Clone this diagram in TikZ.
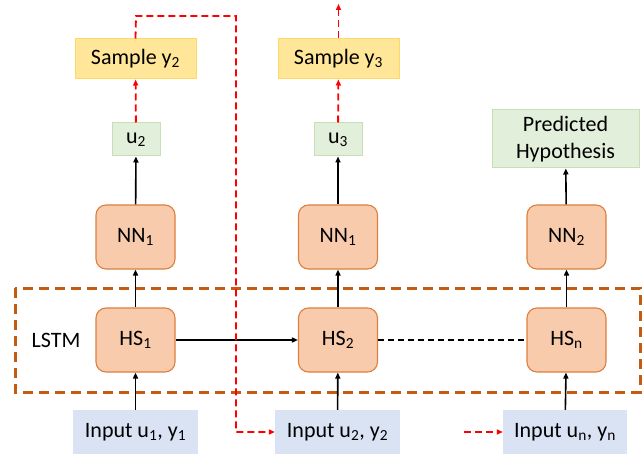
\documentclass[tikz,border=0pt]{standalone}
\usepackage{fontspec}
\setmainfont{Carlito}
\usetikzlibrary{arrows.meta}
\definecolor{sampfill}{HTML}{FFE699}
\definecolor{sampdraw}{HTML}{FFD966}
\definecolor{ufill}{HTML}{E2EFDA}
\definecolor{udraw}{HTML}{C5E0B4}
\definecolor{nnfill}{HTML}{F8CBAD}
\definecolor{nndraw}{HTML}{DD7F3E}
\definecolor{infill}{HTML}{DAE3F3}
\definecolor{lstmdraw}{HTML}{C55A11}
\newcommand{\sbs}[1]{\textsubscript{#1}}
\tikzset{
  x=1pt, y=-1pt,
  every node/.style={font=\fontsize{22}{27}\selectfont, inner sep=0pt},
  sampbox/.style={fill=sampfill, draw=sampdraw, line width=1pt, minimum width=121pt, minimum height=40pt},
  ubox/.style={fill=ufill, draw=udraw, line width=1pt, minimum width=48pt, minimum height=33pt},
  nnbox/.style={fill=nnfill, draw=nndraw, line width=1.1pt, rounded corners=10pt, minimum width=79pt, minimum height=64pt},
  inbox/.style={fill=infill, minimum width=125pt, minimum height=44pt},
  blk/.style={line width=1.6pt, -{Triangle[length=6pt,width=5pt]}},
  redd/.style={red, line width=1.8pt, dash pattern=on 7pt off 4pt, -{Triangle[length=6pt,width=5pt]}},
}
\begin{document}
\begin{tikzpicture}
\useasboundingbox (0,0) rectangle (642,454);
% LSTM box
\draw[lstmdraw, line width=3pt, dash pattern=on 10pt off 6pt] (15,288) rectangle (640,392);
\node (lstm) at (56,340) {LSTM};
% nodes
\node[sampbox] (sy2) at (135.5,59) {Sample y\sbs{2}};
\node[sampbox] (sy3) at (338.5,59) {Sample y\sbs{3}};
\node[ubox] (u2) at (136,139.5) {u\sbs{2}};
\node[ubox] (u3) at (338,139.5) {u\sbs{3}};
\node[fill=ufill, draw=udraw, line width=1pt, minimum width=147pt, minimum height=58pt, align=center] (pred) at (565.5,139) {Predicted\\Hypothesis};
\node[nnbox] (nna) at (135.5,237) {NN\sbs{1}};
\node[nnbox] (nnb) at (338,237) {NN\sbs{1}};
\node[nnbox] (nnc) at (566.5,237) {NN\sbs{2}};
\node[nnbox] (hs1) at (135.5,340) {HS\sbs{1}};
\node[nnbox] (hs2) at (338,340) {HS\sbs{2}};
\node[nnbox] (hsn) at (566.5,340) {HS\sbs{n}};
\node[inbox] (in1) at (135.5,432) {Input u\sbs{1}, y\sbs{1}};
\node[inbox] (in2) at (337.5,432) {Input u\sbs{2}, y\sbs{2}};
\node[inbox, minimum width=124pt] (inn) at (565,432) {Input u\sbs{n}, y\sbs{n}};
\coordinate (c1) at (136,16);
\coordinate (c2) at (236,16);
\coordinate (c3) at (236,432);
\coordinate (top3) at (338.5,4);
\coordinate (rn) at (464,432);
% black arrows
\draw[blk] (in1) -- (hs1);
\draw[blk] (in2) -- (hs2);
\draw[blk] (inn) -- (hsn);
\draw[blk] (hs1) -- (nna);
\draw[blk] (hs2) -- (nnb);
\draw[blk] (hsn) -- (nnc);
\draw[blk] (nna) -- (u2);
\draw[blk] (nnb) -- (u3);
\draw[blk] (nnc) -- (pred);
\draw[blk] (hs1) -- (hs2);
\draw[line width=1.6pt, dash pattern=on 6pt off 4pt] (hs2) -- (hsn);
% red dashed
\draw[redd] (u2) -- (sy2);
\draw[redd] (u3) -- (sy3);
\draw[redd] (sy3) -- (top3);
\draw[redd] (sy2.north) -- (c1) -- (c2) -- (c3) -- (in2.west);
\draw[redd] (rn) -- (inn.west);
\end{tikzpicture}
\end{document}
